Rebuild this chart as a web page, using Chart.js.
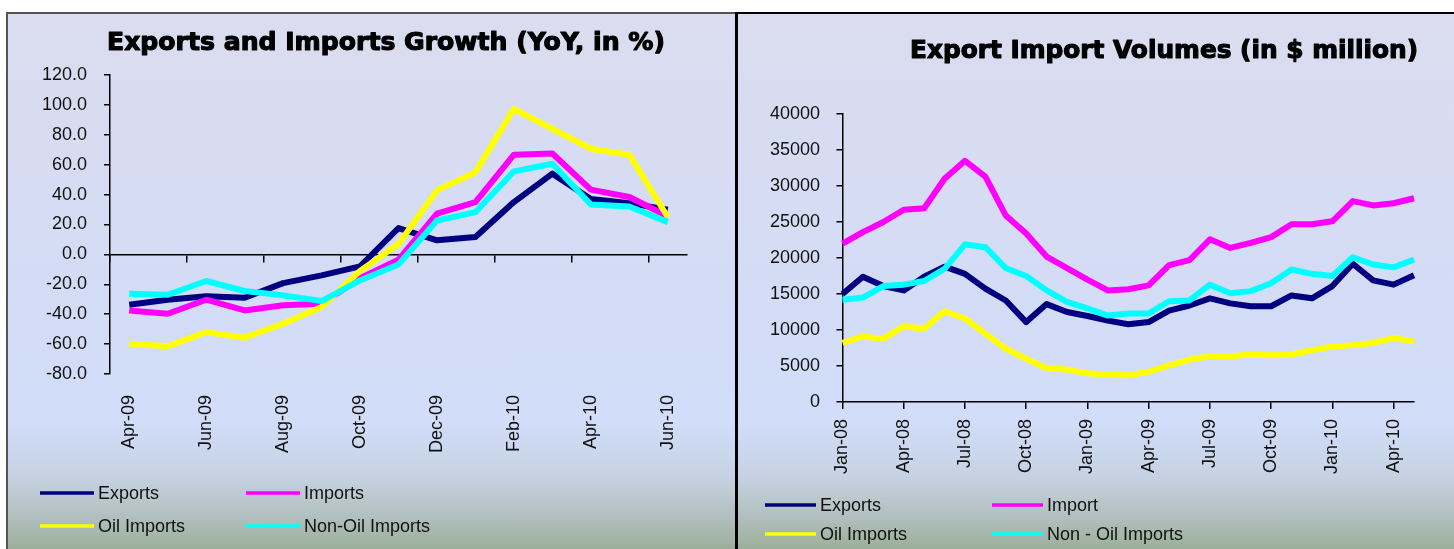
<!DOCTYPE html>
<html>
<head>
<meta charset="utf-8">
<title>Exports and Imports</title>
<script src="https://cdn.jsdelivr.net/npm/chart.js@4.4.1/dist/chart.umd.min.js"></script>
<style>
  html, body { margin: 0; padding: 0; background: #fff; width: 1454px; height: 549px; overflow: hidden; }
  .panel {
    position: absolute; box-sizing: border-box; overflow: hidden;
    background: linear-gradient(to bottom, #dbdcef 0%, #d5dcf4 40%, #d1ddf9 76%, #c6d2e2 86%, #b2c1c0 93%, #9aad97 100%);
  }
  #leftPanel { left: 6px; top: 12px; width: 732px; height: 540px; border-top: 2px solid #555; border-left: 2px solid #555; }
  #rightPanel { left: 735px; top: 12px; width: 730px; height: 540px; border-top: 2px solid #000; border-left: 3px solid #000; }
  canvas { position: absolute; left: 0; top: 0; }
</style>
</head>
<body>
<div class="panel" id="leftPanel"><canvas id="growthChart" width="726" height="535"></canvas></div>
<div class="panel" id="rightPanel"><canvas id="volumeChart" width="716" height="535"></canvas></div>
<script>
// ---- Year-on-year growth, Apr-09 .. Jun-10 (per cent) ----
const growthTitle = 'Exports and Imports Growth (YoY, in %)';
const growthMonths = ['Apr-09', 'May-09', 'Jun-09', 'Jul-09', 'Aug-09', 'Sep-09', 'Oct-09', 'Nov-09',
                      'Dec-09', 'Jan-10', 'Feb-10', 'Mar-10', 'Apr-10', 'May-10', 'Jun-10'];
const growthExports = [-33.7, -30.3, -28.0, -29.0, -19.2, -14.0, -8.0, 17.6, 9.4, 11.6, 35.0, 54.0, 37.0, 34.3, 29.9];
const growthImports = [-37.5, -39.7, -30.3, -37.5, -34.0, -33.0, -16.0, -3.5, 27.2, 35.0, 66.7, 67.5, 43.3, 38.4, 25.5];
const growthOilImports = [-59.8, -61.5, -52.0, -55.7, -46.4, -35.2, -11.0, 7.0, 42.8, 55.0, 97.4, 84.0, 70.7, 66.7, 25.0];
const growthNonOilImports = [-26.3, -27.0, -17.8, -24.5, -27.4, -31.2, -17.4, -6.7, 22.7, 28.3, 55.5, 60.6, 33.4, 32.0, 21.6];
const growthLabels = ['Exports', 'Imports', 'Oil Imports', 'Non-Oil Imports'];

// ---- Monthly volumes, Jan-08 .. May-10 ($ million) ----
const volumeTitle = 'Export Import Volumes (in $ million)';
const volumeMonths = ['Jan-08', 'Feb-08', 'Mar-08', 'Apr-08', 'May-08', 'Jun-08', 'Jul-08', 'Aug-08', 'Sep-08',
                      'Oct-08', 'Nov-08', 'Dec-08', 'Jan-09', 'Feb-09', 'Mar-09', 'Apr-09', 'May-09', 'Jun-09',
                      'Jul-09', 'Aug-09', 'Sep-09', 'Oct-09', 'Nov-09', 'Dec-09', 'Jan-10', 'Feb-10', 'Mar-10',
                      'Apr-10', 'May-10'];
const volumeExports = [15000, 17400, 16100, 15500, 17400, 18800, 17800, 15750, 14100, 11100, 13600, 12500, 11950,
                       11300, 10800, 11100, 12700, 13400, 14400, 13700, 13300, 13300, 14800, 14400, 16100, 19200,
                       16900, 16300, 17600];
const volumeImports = [22000, 23600, 25000, 26700, 26900, 31000, 33500, 31300, 25900, 23400, 20200, 18600, 17000,
                       15500, 15650, 16200, 19000, 19700, 22600, 21400, 22100, 22900, 24700, 24700, 25100, 27900,
                       27300, 27600, 28300];
const volumeOilImports = [8200, 9100, 8800, 10500, 10200, 12600, 11600, 9500, 7400, 6000, 4700, 4500, 4000, 3800,
                          3700, 4200, 5100, 5900, 6350, 6350, 6600, 6500, 6600, 7200, 7700, 7900, 8200, 8900, 8400];
const volumeNonOilImports = [14200, 14500, 16100, 16300, 16800, 18500, 21900, 21500, 18600, 17500, 15500, 13900,
                             13000, 12000, 12300, 12300, 14000, 14100, 16300, 15100, 15400, 16500, 18400, 17800,
                             17500, 20100, 19100, 18700, 19800];
const volumeLabels = ['Exports', 'Import', 'Oil Imports', 'Non - Oil Imports'];

const seriesColors = ['#000080', '#ff00ff', '#ffff00', '#00ffff'];
const FONT = "'Liberation Sans', Arial, sans-serif";
const INK = '#111';

// Heavy, width-fitted chart heading drawn on the canvas
const panelTitle = {
  id: 'panelTitle',
  afterDraw(chart, args, opts) {
    const ctx = chart.ctx;
    ctx.save();
    ctx.font = 'bold ' + opts.size + "px 'DejaVu Sans', sans-serif";
    const w = ctx.measureText(opts.text).width;
    ctx.translate(opts.x, opts.y);
    ctx.scale(opts.width / w, 1);
    ctx.textAlign = 'center';
    ctx.textBaseline = 'middle';
    ctx.fillStyle = '#000';
    ctx.strokeStyle = '#000';
    ctx.lineWidth = 1.1;
    ctx.lineJoin = 'round';
    ctx.fillText(opts.text, 0, 0);
    ctx.strokeText(opts.text, 0, 0);
    ctx.restore();
  }
};

// Two-by-two legend: line sample followed by the series name
const pairLegend = {
  id: 'pairLegend',
  afterDraw(chart, args, opts) {
    const ctx = chart.ctx;
    ctx.save();
    ctx.font = opts.size + 'px ' + FONT;
    ctx.textBaseline = 'middle';
    ctx.textAlign = 'left';
    chart.data.datasets.forEach((ds, i) => {
      const x = opts.cols[i % 2];
      const y = opts.rows[Math.floor(i / 2)];
      ctx.strokeStyle = ds.borderColor;
      ctx.lineWidth = 3.5;
      ctx.beginPath();
      ctx.moveTo(x, y);
      ctx.lineTo(x + opts.lineLen, y);
      ctx.stroke();
      ctx.fillStyle = INK;
      ctx.fillText(ds.label, x + opts.lineLen + opts.gap, y + 1);
    });
    ctx.restore();
  }
};

function series(labels, values) {
  return values.map((data, i) => ({
    label: labels[i],
    data,
    borderColor: seriesColors[i],
    backgroundColor: seriesColors[i],
    borderWidth: 6,
    pointRadius: 0,
    tension: 0,
    borderJoinStyle: 'round',
    fill: false,
    order: values.length - i
  }));
}

const tickFont = { family: FONT, size: 18 };

new Chart(document.getElementById('growthChart'), {
  type: 'line',
  data: {
    labels: growthMonths,
    datasets: series(growthLabels, [growthExports, growthImports, growthOilImports, growthNonOilImports])
  },
  plugins: [panelTitle, pairLegend],
  options: {
    responsive: false,
    animation: false,
    devicePixelRatio: 1,
    events: [],
    layout: { padding: { left: 0, right: 47, top: 61, bottom: 75 } },
    plugins: {
      legend: { display: false },
      tooltip: { enabled: false },
      panelTitle: { text: growthTitle, x: 378, y: 30, width: 558, size: 24 },
      pairLegend: { cols: [32, 238], rows: [479, 512], lineLen: 54, gap: 4, size: 18 }
    },
    scales: {
      x: {
        type: 'category',
        position: { y: 0 },
        offset: true,
        grid: {
          offset: true, drawOnChartArea: false, drawTicks: true, tickLength: 7, lineWidth: 1.5,
          color: (c) => (c.index % 2 === 0 ? '#000' : 'rgba(0,0,0,0)')
        },
        border: { display: true, color: '#000', width: 1.5 },
        ticks: { display: false }
      },
      xl: {
        type: 'category',
        position: 'bottom',
        offset: true,
        grid: { display: false, drawTicks: false },
        border: { display: false },
        ticks: {
          autoSkip: false, minRotation: 90, maxRotation: 90, padding: 21, color: INK, font: tickFont,
          callback(v, i) { return i % 2 === 0 ? this.getLabelForValue(v) : ''; }
        },
        afterFit(s) { s.height = 100; }
      },
      y: {
        min: -80, max: 120,
        grid: { drawOnChartArea: false, tickLength: 6, color: '#000', lineWidth: 1.5 },
        border: { color: '#000', width: 1.5 },
        ticks: { stepSize: 20, padding: 17, color: INK, font: tickFont, callback: (v) => v.toFixed(1) },
        afterFit(s) { s.width = 102; }
      }
    }
  }
});

new Chart(document.getElementById('volumeChart'), {
  type: 'line',
  data: {
    labels: volumeMonths,
    datasets: series(volumeLabels, [volumeExports, volumeImports, volumeOilImports, volumeNonOilImports])
  },
  plugins: [panelTitle, pairLegend],
  options: {
    responsive: false,
    animation: false,
    devicePixelRatio: 1,
    events: [],
    layout: { padding: { left: 0, right: 40, top: 100, bottom: 47 } },
    plugins: {
      legend: { display: false },
      tooltip: { enabled: false },
      panelTitle: { text: volumeTitle, x: 426, y: 38, width: 508, size: 24 },
      pairLegend: { cols: [27, 254], rows: [491, 520], lineLen: 51, gap: 4, size: 18 }
    },
    scales: {
      x: {
        type: 'category',
        offset: false,
        grid: {
          offset: false, drawOnChartArea: false, tickLength: 7, lineWidth: 1.5,
          color: (c) => (c.index % 3 === 0 ? '#000' : 'rgba(0,0,0,0)')
        },
        border: { color: '#000', width: 1.5 },
        ticks: {
          autoSkip: false, minRotation: 90, maxRotation: 90, padding: 10, color: INK, font: tickFont,
          callback(v, i) { return i % 3 === 0 ? this.getLabelForValue(v) : ''; }
        },
        afterFit(s) { s.height = 100; }
      },
      y: {
        min: 0, max: 40000,
        grid: { drawOnChartArea: false, tickLength: 6, color: '#000', lineWidth: 1.5 },
        border: { color: '#000', width: 1.5 },
        ticks: { stepSize: 5000, padding: 16.5, color: INK, font: tickFont, callback: (v) => String(v) },
        afterFit(s) { s.width = 104.5; }
      }
    }
  }
});
</script>
</body>
</html>
